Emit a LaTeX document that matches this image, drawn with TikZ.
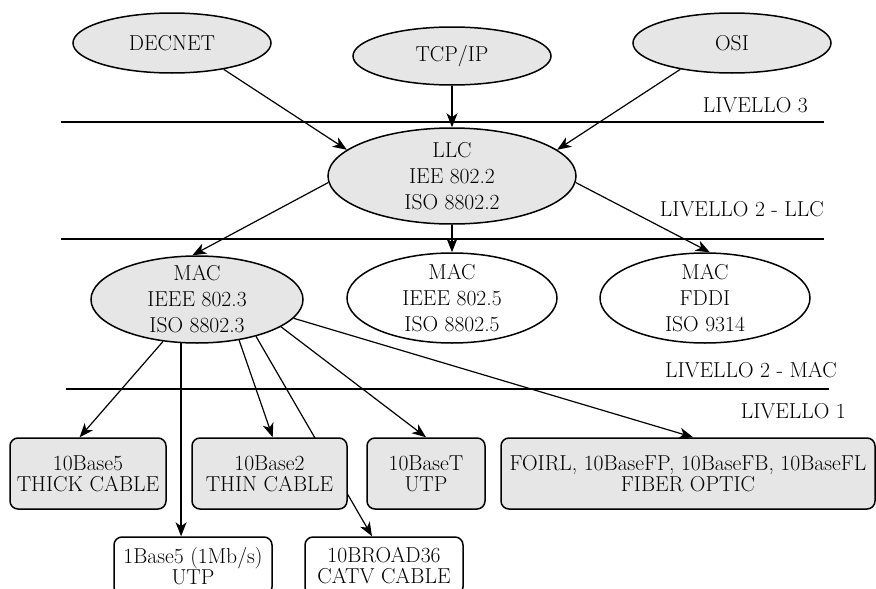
\documentclass[tikz,border=0pt]{standalone}
\usetikzlibrary{shapes.geometric,arrows.meta,calc}
\pgfdeclarelayer{bg}
\pgfsetlayers{bg,main}
\definecolor{fillg}{RGB}{230,230,231}
\tikzset{
 ell/.style={ellipse, draw, line width=1.5pt, inner sep=0pt},
 gfill/.style={fill=fillg},
 txt/.style={align=center, inner sep=0pt, font=\fontsize{21.6}{26}\selectfont},
 box/.style={rectangle, rounded corners=8pt, draw, line width=1.5pt, align=center, inner sep=0pt, font=\fontsize{21.6}{21}\selectfont},
 arr/.style={line width=1.2pt, -{Stealth[length=14pt,width=11pt,inset=4pt]}},
 lvl/.style={anchor=east, inner sep=0pt, font=\fontsize{21.6}{21}\selectfont},
 rule/.style={line width=1.2pt},
}
\begin{document}
\begin{tikzpicture}[x=1pt,y=-1pt]
\useasboundingbox (0,0) rectangle (876,589);
\clip (0,0) rectangle (876,589);
% ellipses
\node[ell,gfill,minimum width=198,minimum height=60] (decnet) at (172,43) {};
\node[txt] (decnet-t) at (decnet) {DECNET};
\node[ell,gfill,minimum width=198,minimum height=58] (tcp) at (452,56) {};
\node[txt] (tcp-t) at (tcp) {TCP/IP};
\node[ell,gfill,minimum width=198,minimum height=60] (osi) at (732,43) {};
\node[txt] (osi-t) at (osi) {OSI};
\node[ell,gfill,minimum width=248,minimum height=96] (llc) at (452,176) {};
\node[txt] (llc-t) at (llc) {LLC\\IEE 802.2\\ISO 8802.2};
\node[ell,gfill,minimum width=212,minimum height=87] (mac3) at (197,299.5) {};
\node[txt] (mac3-t) at (mac3) {MAC\\IEEE 802.3\\ISO 8802.3};
\node[ell,fill=white,minimum width=210,minimum height=90] (mac5) at (452,298) {};
\node[txt] (mac5-t) at (mac5) {MAC\\IEEE 802.5\\ISO 8802.5};
\node[ell,fill=white,minimum width=210,minimum height=90] (fddi) at (705,298) {};
\node[txt] (fddi-t) at (fddi) {MAC\\FDDI\\ISO 9314};
% level rules
\coordinate (r1a) at (61,122); \coordinate (r1b) at (824,122);
\coordinate (r2a) at (61,239); \coordinate (r2b) at (824,239);
\coordinate (r3a) at (66,389); \coordinate (r3b) at (829,389);
\draw[rule] (r1a) -- (r1b);
\draw[rule] (r2a) -- (r2b);
\draw[rule] (r3a) -- (r3b);
\node[lvl] (lv3) at (808,105) {LIVELLO 3};
\node[lvl] (lv2l) at (824,209) {LIVELLO 2 - LLC};
\node[lvl] (lv2m) at (837,370) {LIVELLO 2 - MAC};
\node[lvl] (lv1) at (846,411) {LIVELLO 1};
% boxes
\node[box,gfill,minimum width=156,minimum height=71] (b5) at (88,473.5) {10Base5\\THICK CABLE};
\node[box,gfill,minimum width=155,minimum height=71] (b2) at (269.5,473.5) {10Base2\\THIN CABLE};
\node[box,gfill,minimum width=118,minimum height=71] (bt) at (426,473.5) {10BaseT\\UTP};
\node[box,gfill,minimum width=374,minimum height=71] (fo) at (688,473.5) {FOIRL, 10BaseFP, 10BaseFB, 10BaseFL\\FIBER OPTIC};
\node[box,fill=white,minimum width=158,minimum height=58] (b1) at (193,566) {1Base5 (1Mb/s)\\UTP};
\node[box,fill=white,minimum width=158,minimum height=58] (broad) at (384,566) {10BROAD36\\CATV CABLE};
% arrows
\draw[arr] (decnet.-27) -- (llc.166.5);
\draw[arr] (tcp.south) -- (llc.north);
\draw[arr] (osi.-153) -- (llc.14.7);
\draw[arr] (llc.-177) -- (mac3.96.5);
\draw[arr] (llc.south) -- (mac5.north);
\draw[arr] (llc.-3) -- (fddi.84);
\draw[arr] (mac3.-129) -- (b5.103);
\draw[arr] (mac3.-110) -- (mac3.-110 |- b1.north);
\draw[arr] (mac3.-44.7) -- (b2.85);
\draw[arr] (mac3.-18) -- (bt.north);
\draw[arr] (mac3.-11) -- (fo.82);
\begin{pgfonlayer}{bg}
\draw[arr] (mac3.-32.4) -- (broad.112);
\end{pgfonlayer}
\end{tikzpicture}
\end{document}
